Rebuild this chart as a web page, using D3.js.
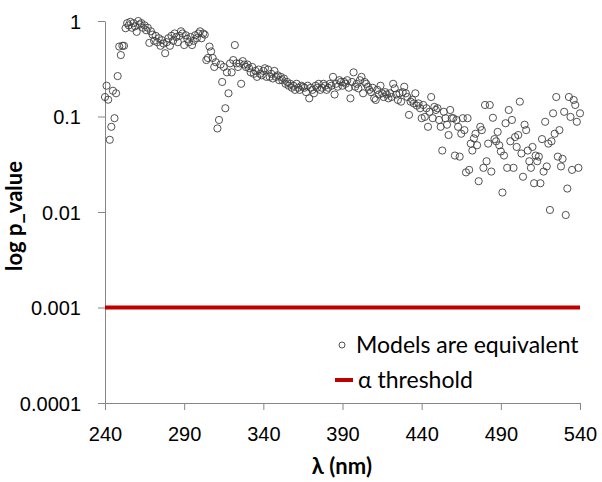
<!DOCTYPE html>
<html>
<head>
<meta charset="utf-8">
<script src="https://cdnjs.cloudflare.com/ajax/libs/d3/7.8.5/d3.min.js"></script>
<style>
  body { margin: 0; background: #fff; }
  svg { display: block; font-family: Lato, "Open Sans", sans-serif; }
  .axis path, .axis line { stroke: #868686; stroke-width: 1; }
  .axis text { font-size: 20px; fill: #000; }
</style>
</head>
<body>
<div id="chart"></div>
<script>
// wavelength grid, 1 nm steps
var wavelengths = d3.range(240, 541);

// p values, one per nm (rows of 10 starting at 240)
var pValues = [
  0.16, 0.21, 0.15, 0.057, 0.078, 0.186, 0.096, 0.175, 0.265, 0.54,
  0.44, 0.55, 0.55, 0.84, 0.95, 0.9, 0.98, 0.85, 0.95, 0.88,
  0.77, 1.0, 0.92, 0.95, 0.85, 0.9, 0.8, 0.85, 0.59, 0.78,
  0.72, 0.62, 0.7, 0.6, 0.66, 0.55, 0.63, 0.58, 0.46, 0.6,
  0.66, 0.55, 0.7, 0.62, 0.74, 0.68, 0.6, 0.7, 0.78, 0.74,
  0.56, 0.71, 0.65, 0.6, 0.68, 0.56, 0.62, 0.71, 0.66, 0.74,
  0.78, 0.66, 0.74, 0.72, 0.39, 0.41, 0.54, 0.48, 0.41, 0.33,
  0.37, 0.075, 0.092, 0.35, 0.23, 0.33, 0.122, 0.29, 0.175, 0.36,
  0.29, 0.39, 0.56, 0.36, 0.33, 0.36, 0.22, 0.38, 0.35, 0.33,
  0.35, 0.32, 0.29, 0.33, 0.28, 0.3, 0.26, 0.31, 0.28, 0.27,
  0.3, 0.32, 0.26, 0.31, 0.26, 0.28, 0.25, 0.3, 0.26, 0.27,
  0.24, 0.26, 0.24, 0.25, 0.22, 0.23, 0.21, 0.22, 0.2, 0.21,
  0.19, 0.22, 0.2, 0.19, 0.21, 0.205, 0.2, 0.18, 0.21, 0.155,
  0.2, 0.19, 0.175, 0.21, 0.2, 0.22, 0.19, 0.2, 0.22, 0.21,
  0.19, 0.2, 0.22, 0.21, 0.26, 0.17, 0.22, 0.205, 0.24, 0.23,
  0.21, 0.23, 0.22, 0.24, 0.2, 0.155, 0.23, 0.29, 0.205, 0.22,
  0.197, 0.24, 0.26, 0.175, 0.23, 0.22, 0.205, 0.19, 0.18, 0.2,
  0.155, 0.149, 0.19, 0.17, 0.21, 0.175, 0.16, 0.18, 0.17, 0.155,
  0.175, 0.16, 0.22, 0.197, 0.17, 0.149, 0.175, 0.143, 0.18, 0.205,
  0.175, 0.16, 0.104, 0.143, 0.15, 0.137, 0.175, 0.13, 0.137, 0.122,
  0.096, 0.132, 0.099, 0.122, 0.078, 0.112, 0.16, 0.096, 0.126, 0.117,
  0.122, 0.092, 0.078, 0.044, 0.112, 0.096, 0.082, 0.064, 0.117, 0.096,
  0.096, 0.039, 0.092, 0.078, 0.038, 0.066, 0.096, 0.072, 0.026, 0.096,
  0.0276, 0.052, 0.044, 0.059, 0.066, 0.050, 0.021, 0.078, 0.072, 0.029,
  0.132, 0.034, 0.052, 0.132, 0.0265, 0.097, 0.058, 0.055, 0.069, 0.050,
  0.043, 0.016, 0.039, 0.085, 0.029, 0.117, 0.055, 0.092, 0.029, 0.061,
  0.048, 0.064, 0.143, 0.041, 0.0234, 0.082, 0.072, 0.044, 0.034, 0.029,
  0.048, 0.020, 0.039, 0.034, 0.038, 0.020, 0.058, 0.0265, 0.088, 0.030,
  0.052, 0.0105, 0.055, 0.108, 0.066, 0.16, 0.038, 0.072, 0.030, 0.036,
  0.112, 0.0093, 0.0176, 0.16, 0.099, 0.0276, 0.149, 0.132, 0.088, 0.029,
  0.108
];

var alphaThreshold = 0.001;
var thresholdRange = [240, 540];

var xTicks = [240, 290, 340, 390, 440, 490, 540];
var yTicks = [0.0001, 0.001, 0.01, 0.1, 1];
var yTickLabels = ["0.0001", "0.001", "0.01", "0.1", "1"];

var seriesNames = ["Models are equivalent", "\u03b1 threshold"];

// set the dimensions and margins of the graph
var outerWidth = 602, outerHeight = 482;
var margin = {top: 21, right: 22, bottom: 79, left: 105};
var width = outerWidth - margin.left - margin.right,
    height = outerHeight - margin.top - margin.bottom;

var svg = d3.select("#chart").append("svg")
    .attr("width", outerWidth)
    .attr("height", outerHeight);

var g = svg.append("g")
    .attr("transform", "translate(" + margin.left + "," + margin.top + ")");

// scales
var x = d3.scaleLinear().domain([240, 540]).range([0, width]);
var y = d3.scaleLog().domain([0.0001, 1]).range([height, 0]);

// axes
var xAxisG = g.append("g")
    .attr("class", "axis")
    .attr("transform", "translate(0," + height + ")")
    .call(d3.axisBottom(x).tickValues(xTicks).tickSize(7).tickSizeOuter(0).tickFormat(d3.format("d")));
xAxisG.selectAll("text").attr("y", 38).attr("dy", 0);

var yAxisG = g.append("g")
    .attr("class", "axis")
    .call(d3.axisLeft(y).tickValues(yTicks).tickSize(7).tickSizeOuter(0).tickPadding(17)
      .tickFormat(function(d, i) { return yTickLabels[i]; }));
yAxisG.selectAll("text").attr("dy", "0.36em");

// threshold line
g.append("line")
    .attr("x1", x(thresholdRange[0]))
    .attr("x2", x(thresholdRange[1]))
    .attr("y1", y(alphaThreshold))
    .attr("y2", y(alphaThreshold))
    .attr("stroke", "#c00000")
    .attr("stroke-width", 4);

// points
g.selectAll("circle.pt")
    .data(pValues)
  .enter().append("circle")
    .attr("class", "pt")
    .attr("cx", function(d, i) { return x(wavelengths[i]); })
    .attr("cy", function(d) { return y(d); })
    .attr("r", 3.6)
    .attr("fill", "none")
    .attr("stroke", "#404040")
    .attr("stroke-width", 0.9);

// axis titles
svg.append("text")
    .attr("x", 342)
    .attr("y", 474)
    .attr("text-anchor", "middle")
    .style("font-size", "22px")
    .style("font-weight", "bold")
    .text("\u03bb (nm)");

svg.append("text")
    .attr("transform", "translate(22,216) rotate(-90)")
    .attr("text-anchor", "middle")
    .style("font-size", "22px")
    .style("font-weight", "bold")
    .text("log p_value");

// legend
var legend = svg.append("g");
legend.append("circle")
    .attr("cx", 342).attr("cy", 345).attr("r", 3)
    .attr("fill", "none").attr("stroke", "#404040").attr("stroke-width", 0.9);
legend.append("text")
    .attr("x", 356).attr("y", 353)
    .style("font-size", "23px")
    .text(seriesNames[0]);
legend.append("line")
    .attr("x1", 335).attr("x2", 353).attr("y1", 380).attr("y2", 380)
    .attr("stroke", "#c00000").attr("stroke-width", 4);
legend.append("text")
    .attr("x", 358).attr("y", 388)
    .style("font-size", "23px")
    .text(seriesNames[1]);
</script>
</body>
</html>
